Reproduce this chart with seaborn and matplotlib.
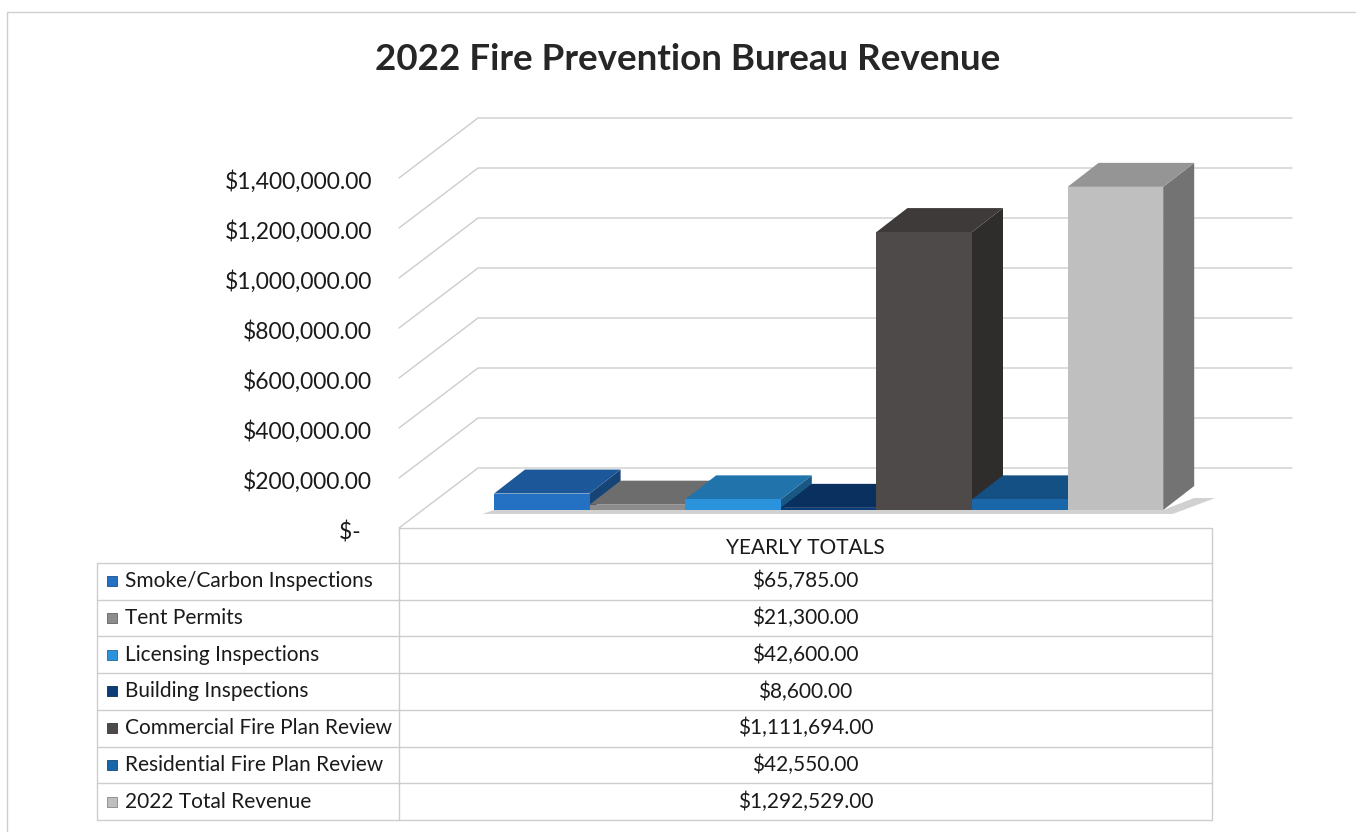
import matplotlib
matplotlib.use("Agg")
import matplotlib.pyplot as plt
from matplotlib.patches import Polygon, Rectangle
from matplotlib.colors import to_rgb
import seaborn as sns
import pandas as pd

# chart data
title = "2022 Fire Prevention Bureau Revenue"
column_header = "YEARLY TOTALS"
categories = ["Smoke/Carbon Inspections", "Tent Permits", "Licensing Inspections",
              "Building Inspections", "Commercial Fire Plan Review",
              "Residential Fire Plan Review", "2022 Total Revenue"]
revenue = [65785, 21300, 42600, 8600, 1111694, 42550, 1292529]
colors = ["#2471c4", "#8c8c8c", "#2a93dc", "#0c3d78", "#4f4a4a", "#1967a8", "#bfbfbf"]
y_ticks = [0, 200000, 400000, 600000, 800000, 1000000, 1200000, 1400000]

W, H, DPI = 1356, 832, 100

# pseudo-3d layout, in pixels from the top-left corner
BAR_LEFT, BAR_STEP, BAR_BASE = 494, 95.6, 510
DOLLARS_PER_PX = 4000
DEPTH_X, DEPTH_Y = 31, 24
FRONT_L, FRONT_R, FRONT_Y = 399, 1212, 528
BACK_L, BACK_R, BACK_Y = 478, 1292, 468
AX_L, AX_R, AX_T, AX_B = 380, 1300, 100, 540
TAB_L, TAB_M, TAB_R = 97, 399, 1212
HEAD_T, ROW_T, ROW_H = 528, 563, 36.7
GRID = "#cdcdcd"
TEXT = "#1a1a1a"


def to_data(px, py):
    return (px - BAR_LEFT) / BAR_STEP - 0.5, (BAR_BASE - py) * DOLLARS_PER_PX


def shade(c, f):
    r, g, b = to_rgb(c)
    return (r * f, g * f, b * f)


def money(v):
    return "$-  " if v == 0 else f"${v:,.2f}"


sns.set_style("white")
plt.rcParams["font.family"] = ["Lato", "DejaVu Sans"]

fig = plt.figure(figsize=(W / DPI, H / DPI), dpi=DPI)
fig.patch.set_facecolor("white")

# overlay in pixel coordinates for table, frame and title
ov = fig.add_axes([0, 0, 1, 1])
ov.set_xlim(0, W)
ov.set_ylim(H, 0)
ov.axis("off")

ax = fig.add_axes([AX_L / W, (H - AX_B) / H, (AX_R - AX_L) / W, (AX_B - AX_T) / H])
ax.patch.set_alpha(0)

df = pd.DataFrame({"category": categories, "revenue": revenue})
sns.barplot(data=df, x="category", y="revenue", hue="category", order=categories,
            hue_order=categories, palette=colors, width=1.0, saturation=1,
            legend=False, ax=ax, linewidth=0)

x0, y0 = to_data(AX_L, AX_B)
x1, y1 = to_data(AX_R, AX_T)
ax.set_xlim(x0, x1)
ax.set_ylim(y0, y1)
ax.set_xticks([])
ax.set_yticks([])
ax.set_xlabel("")
ax.set_ylabel("")
sns.despine(ax=ax, left=True, bottom=True)

# back wall grid, left wall lines and value labels at the front edge
for v in y_ticks:
    dy = v / DOLLARS_PER_PX
    pts = [to_data(FRONT_L, FRONT_Y - dy), to_data(BACK_L, BACK_Y - dy),
           to_data(BACK_R, BACK_Y - dy)]
    ax.plot([p[0] for p in pts], [p[1] for p in pts], color=GRID, lw=1.0,
            zorder=0.5, clip_on=False)
    ax.text(-8 / (AX_R - AX_L), v - 22 * DOLLARS_PER_PX, money(v),
            transform=ax.get_yaxis_transform(), ha="right", va="center",
            fontsize=16.5, color=TEXT)

# depth faces built from the seaborn bars
ddx = DEPTH_X / BAR_STEP
ddy = DEPTH_Y * DOLLARS_PER_PX
bars = list(ax.patches)
xl = bars[0].get_x()
xr = bars[-1].get_x() + bars[-1].get_width()
sh = 4 * DOLLARS_PER_PX
ax.add_patch(Polygon([(xl - 0.12, -sh), (xr + 0.1, -sh), (xr + ddx + 0.22, ddy * 0.5),
                      (xr + ddx, ddy * 0.5), (xr, 0), (xl, 0)],
                     closed=True, facecolor="#7d7d7d", alpha=0.35, lw=0, zorder=1))
for i, (bar, c) in enumerate(zip(bars, colors)):
    bx, bw, bh = bar.get_x(), bar.get_width(), bar.get_height()
    z = 2 + i * 0.1
    side = Polygon([(bx + bw, 0), (bx + bw + ddx, ddy), (bx + bw + ddx, bh + ddy),
                    (bx + bw, bh)], closed=True, facecolor=shade(c, 0.6), lw=0, zorder=z)
    top = Polygon([(bx, bh), (bx + bw, bh), (bx + bw + ddx, bh + ddy), (bx + ddx, bh + ddy)],
                  closed=True, facecolor=shade(c, 0.78), lw=0, zorder=z + 0.01)
    ax.add_patch(side)
    ax.add_patch(top)
    bar.set_zorder(z + 0.02)

# chart frame
ov.plot([7, W], [12, 12], color="#cfcfcf", lw=1)
ov.plot([7, 7], [12, H], color="#cfcfcf", lw=1)

fig.text(688 / W, 1 - 60 / H, title, ha="center", va="center", fontsize=26.5,
         fontweight="bold", color="#262626")

# data table
n = len(categories)
row_bottom = ROW_T + n * ROW_H
ov.plot([TAB_M, TAB_R], [HEAD_T, HEAD_T], color=GRID, lw=1)
for k in range(n + 1):
    ov.plot([TAB_L, TAB_R], [ROW_T + k * ROW_H] * 2, color=GRID, lw=1)
ov.plot([TAB_L, TAB_L], [ROW_T, row_bottom], color=GRID, lw=1)
ov.plot([TAB_M, TAB_M], [HEAD_T, row_bottom], color=GRID, lw=1)
ov.plot([TAB_R, TAB_R], [HEAD_T, row_bottom], color=GRID, lw=1)
ov.text((TAB_M + TAB_R) / 2, (HEAD_T + ROW_T) / 2 + 3, column_header, ha="center",
        va="center", fontsize=15, color=TEXT)
for k, (name, val, c) in enumerate(zip(categories, revenue, colors)):
    yc = ROW_T + (k + 0.5) * ROW_H
    ov.add_patch(Rectangle((107, yc - 5), 10, 10, facecolor=c, edgecolor=shade(c, 0.7), lw=0.6))
    ov.text(125, yc, name, ha="left", va="center", fontsize=15, color=TEXT)
    ov.text((TAB_M + TAB_R) / 2, yc, money(val), ha="center", va="center",
            fontsize=15, color=TEXT)

fig.savefig("out.png", dpi=DPI)
